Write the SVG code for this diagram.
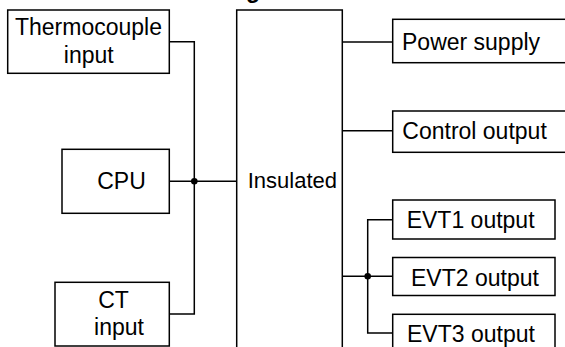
<svg xmlns="http://www.w3.org/2000/svg" width="565" height="347" viewBox="0 0 565 347">
<style>
.box{fill:#fff;stroke:#000;stroke-width:1.5}
.wire{fill:none;stroke:#000;stroke-width:1.5}
.t{font-family:"Liberation Sans",Arial,sans-serif;font-size:23px;fill:#000}
.dot{fill:#000}
</style>
<rect width="565" height="347" fill="#fff"/>
<text class="t" x="246" y="-2" font-weight="bold">g</text>
<g id="connectors">
<polyline class="wire" points="169.3,41.7 194.3,41.7 194.3,314 169.3,314"/>
<line class="wire" x1="169.3" y1="181.3" x2="236.7" y2="181.3"/>
<circle class="dot" cx="194.3" cy="181.3" r="3.3"/>
<line class="wire" x1="342.3" y1="42" x2="392.7" y2="42"/>
<line class="wire" x1="342.3" y1="130.7" x2="392.7" y2="130.7"/>
<line class="wire" x1="342.3" y1="276.3" x2="392.7" y2="276.3"/>
<polyline class="wire" points="392.7,219.7 367.7,219.7 367.7,333 392.7,333"/>
<circle class="dot" cx="367.7" cy="276.3" r="3.3"/>
</g>
<g id="thermocouple">
<rect class="box" x="7.7" y="10" width="161.6" height="63.3"/>
<text class="t" x="88.5" y="35" text-anchor="middle">Thermocouple</text>
<text class="t" x="88.8" y="63" text-anchor="middle">input</text>
</g>
<g id="cpu">
<rect class="box" x="62" y="149.3" width="107.3" height="64"/>
<text class="t" x="121.5" y="189" text-anchor="middle">CPU</text>
</g>
<g id="ct">
<rect class="box" x="55" y="282.3" width="114.3" height="63.7"/>
<text class="t" x="113.5" y="308.3" text-anchor="middle">CT</text>
<text class="t" x="119" y="335" text-anchor="middle">input</text>
</g>
<g id="insulated">
<rect class="box" x="236.7" y="10" width="105.6" height="345"/>
<text class="t" x="247.7" y="187.7" style="font-size:22px">Insulated</text>
</g>
<g id="power">
<rect class="box" x="392.7" y="19.3" width="180" height="43.4"/>
<text class="t" x="402" y="49.5">Power supply</text>
</g>
<g id="control">
<rect class="box" x="392.7" y="111" width="180" height="41.3"/>
<text class="t" x="402.3" y="139">Control output</text>
</g>
<g id="evt1">
<rect class="box" x="392.7" y="200" width="162.3" height="39"/>
<text class="t" x="406.7" y="228">EVT1 output</text>
</g>
<g id="evt2">
<rect class="box" x="392.7" y="257.5" width="162.3" height="38"/>
<text class="t" x="411" y="285.5">EVT2 output</text>
</g>
<g id="evt3">
<rect class="box" x="392.7" y="314.3" width="162.3" height="45"/>
<text class="t" x="407" y="342">EVT3 output</text>
</g>
</svg>
